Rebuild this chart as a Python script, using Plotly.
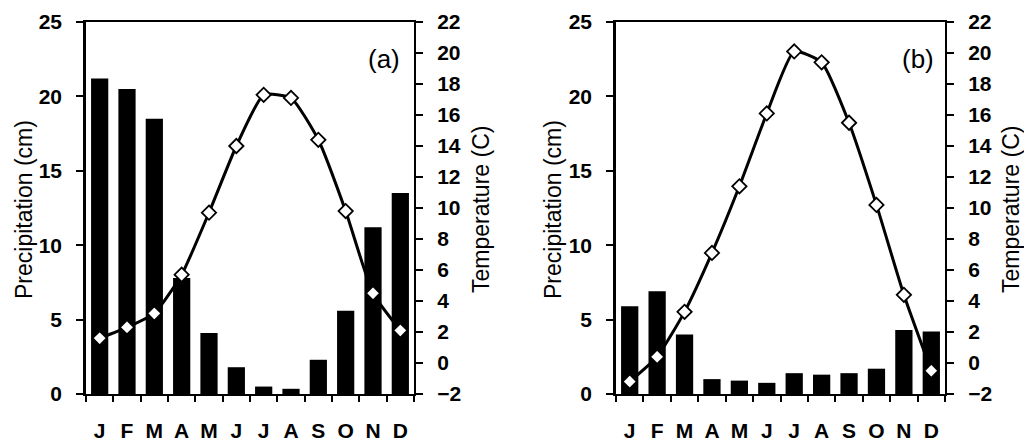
import plotly.graph_objects as go

months = ["Jan", "Feb", "Mar", "Apr", "May", "Jun", "Jul", "Aug", "Sep", "Oct", "Nov", "Dec"]
month_labels = ["J", "F", "M", "A", "M", "J", "J", "A", "S", "O", "N", "D"]

precip_a = [21.2, 20.5, 18.5, 7.8, 4.1, 1.8, 0.5, 0.35, 2.3, 5.6, 11.2, 13.5]
temp_a = [1.6, 2.3, 3.2, 5.7, 9.7, 14.0, 17.3, 17.1, 14.4, 9.8, 4.5, 2.1]

precip_b = [5.9, 6.9, 4.0, 1.0, 0.9, 0.75, 1.4, 1.3, 1.4, 1.7, 4.3, 4.2]
temp_b = [-1.2, 0.4, 3.3, 7.1, 11.4, 16.1, 20.1, 19.4, 15.5, 10.2, 4.4, -0.5]

precip_ticks = [0, 5, 10, 15, 20, 25]
temp_ticks = [-2, 0, 2, 4, 6, 8, 10, 12, 14, 16, 18, 20, 22]

W, H = 1024, 442
FONT = "Liberation Sans, Arial, Helvetica, sans-serif"

fig = go.Figure()

panels = [
    (precip_a, temp_a, "x", "y", "y2"),
    (precip_b, temp_b, "x2", "y3", "y4"),
]
for pr, tp, xa, ya, yb in panels:
    fig.add_trace(go.Bar(x=months, y=pr, xaxis=xa, yaxis=ya, width=0.63,
                         marker=dict(color="black", line=dict(width=0)),
                         showlegend=False, hoverinfo="skip"))
    fig.add_trace(go.Scatter(x=months, y=tp, xaxis=xa, yaxis=yb,
                             mode="lines+markers",
                             line=dict(color="black", width=3, shape="spline", smoothing=0.5),
                             marker=dict(symbol="diamond", size=11, color="white",
                                         line=dict(color="black", width=1.8)),
                             showlegend=False, hoverinfo="skip"))

y_top = 1 - 22 / H
y_bot = 1 - 394 / H
dom_a = [86 / W, 414 / W]
dom_b = [616 / W, 945 / W]

tickfont = dict(family=FONT, size=21, color="black", weight="bold")

def xaxis_cfg(dom, anchor):
    return dict(domain=dom, anchor=anchor, type="category", automargin=False,
                categoryorder="array", categoryarray=months,
                range=[-0.5, 11.5], tickmode="array", tickvals=months, ticktext=month_labels,
                tickson="boundaries", ticks="outside", ticklen=6, tickwidth=1.5, tickcolor="black",
                showline=True, linewidth=2, linecolor="black", mirror=True,
                showgrid=False, zeroline=False, tickfont=tickfont, ticklabelstandoff=17)

def yleft_cfg(anchor):
    return dict(domain=[y_bot, y_top], anchor=anchor, range=[0, 25], automargin=False,
                tickmode="array", tickvals=precip_ticks,
                ticks="outside", ticklen=7, tickwidth=1.5, tickcolor="black",
                showline=True, linewidth=2.5, linecolor="black",
                showgrid=False, zeroline=False, tickfont=tickfont, ticklabelstandoff=10)

def yright_cfg(anchor, overlay):
    return dict(domain=[y_bot, y_top], anchor=anchor, overlaying=overlay, side="right",
                range=[-2, 22], automargin=False, tickmode="array", tickvals=temp_ticks,
                ticks="outside", ticklen=7, tickwidth=1.5, tickcolor="black",
                showline=True, linewidth=2, linecolor="black",
                showgrid=False, zeroline=False, tickfont=tickfont, ticklabelstandoff=10)

fig.update_layout(
    width=W, height=H,
    margin=dict(l=0, r=0, t=0, b=0, autoexpand=False),
    paper_bgcolor="white", plot_bgcolor="white",
    xaxis=xaxis_cfg(dom_a, "y"),
    xaxis2=xaxis_cfg(dom_b, "y3"),
    yaxis=yleft_cfg("x"),
    yaxis2=yright_cfg("x", "y"),
    yaxis3=yleft_cfg("x2"),
    yaxis4=yright_cfg("x2", "y3"),
)

title_font = dict(family=FONT, size=23, color="black")
ymid = 1 - 210 / H
annotations = [
    dict(text="Precipitation (cm)", x=24 / W, y=ymid, textangle=-90),
    dict(text="Temperature (C)", x=481 / W, y=ymid, textangle=-90),
    dict(text="Precipitation (cm)", x=553 / W, y=ymid, textangle=-90),
    dict(text="Temperature (C)", x=1011 / W, y=ymid, textangle=-90),
]
for a in annotations:
    fig.add_annotation(xref="paper", yref="paper", xanchor="center", yanchor="middle",
                       showarrow=False, font=title_font, **a)

for lab, xc in [("(a)", 384), ("(b)", 918)]:
    fig.add_annotation(text=lab, xref="paper", yref="paper", x=xc / W, y=1 - 59 / H,
                       xanchor="center", yanchor="middle", showarrow=False,
                       font=dict(family=FONT, size=26, color="black"))

fig.write_html("out.html")
